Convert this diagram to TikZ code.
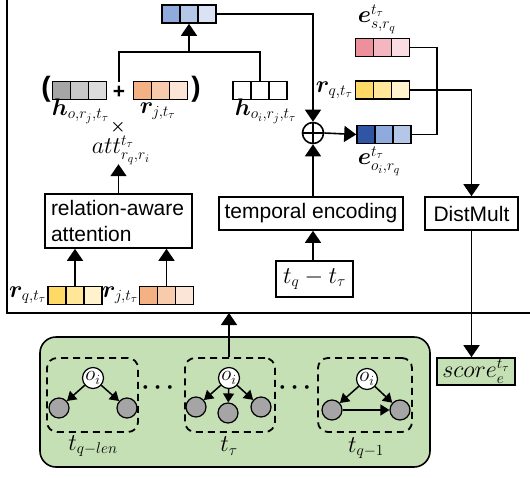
\RequirePackage{fix-cm}
\documentclass[tikz,border=0pt]{standalone}
\usepackage{fontspec}
\setmainfont{Liberation Sans}
\usepackage{amsmath,bm}
\usetikzlibrary{arrows.meta}
% math sizes with compact sub- and superscripts
\DeclareMathSizes{24}{24}{15.5}{11.5}
\DeclareMathSizes{21}{21}{14}{10.5}

\definecolor{blueA}{HTML}{8FAADC}
\definecolor{blueB}{HTML}{B4C7E7}
\definecolor{blueC}{HTML}{DAE3F3}
\definecolor{blueD}{HTML}{2F55A4}
\definecolor{greyA}{HTML}{A6A6A6}
\definecolor{greyB}{HTML}{C8C8C8}
\definecolor{greyC}{HTML}{DCDCDC}
\definecolor{orangeA}{HTML}{F4B183}
\definecolor{orangeB}{HTML}{F8CBAD}
\definecolor{orangeC}{HTML}{FBE5D6}
\definecolor{yellowA}{HTML}{FFD966}
\definecolor{yellowB}{HTML}{FFE699}
\definecolor{yellowC}{HTML}{FFF2CC}
\definecolor{pinkA}{HTML}{EE909C}
\definecolor{pinkB}{HTML}{F4B6C1}
\definecolor{pinkC}{HTML}{FADCE2}
\definecolor{greenbg}{HTML}{C5E0B4}
\definecolor{nodegrey}{HTML}{A5A5A5}

\tikzset{
  every node/.style={font=\fontsize{21}{25}\selectfont},
  mlab/.style={font=\fontsize{24}{28}\selectfont, inner sep=0pt},
  cell/.style={draw, minimum width=18pt, minimum height=18pt, inner sep=0pt, line width=1.6pt},
  pics/vec/.style n args={3}{code={
    \node[cell,fill=#1] (-a) at (-18,0) {};
    \node[cell,fill=#2] (-b) at (0,0) {};
    \node[cell,fill=#3] (-c) at (18,0) {};
  }},
  box/.style={draw, line width=1.6pt, inner sep=0pt},
  arr/.style={-{Triangle[width=16pt,length=12pt]}, line width=1.6pt},
  garr/.style={-{Triangle[width=11pt,length=9pt]}, line width=1.5pt},
  onode/.style={circle, draw, fill=white, minimum size=21pt, inner sep=0pt, line width=1.2pt,
                font=\fontsize{21}{24}\selectfont},
  gnode/.style={circle, draw, fill=nodegrey, minimum size=20pt, inner sep=0pt, line width=1.2pt},
  snapbox/.style={draw, dashed, dash pattern=on 7pt off 5pt, rounded corners=10pt, line width=1.8pt},
}

\begin{document}
\begin{tikzpicture}[x=1pt,y=-1pt,line width=1.6pt]
\useasboundingbox (0,0) rectangle (530,477);

% frame around the encoder
\coordinate (fTL) at (7,0);
\coordinate (fBL) at (7,313);
\coordinate (fBR) at (530,313);
\draw[line width=2.4pt] (fTL) -- (fBL) -- (fBR);

% aggregated vector on top
\pic (vtop) at (189,14) {vec={blueA}{blueB}{blueC}};

% neighbour message ( h + r ) x att
\node (lpar) at (46,89) {\fontsize{28}{30}\selectfont\textbf{(}};
\pic (vh) at (79.5,90.5) {vec={greyA}{greyB}{greyC}};
\node (plussign) at (119,92) {\textbf{+}};
\pic (vrj) at (160.5,90.5) {vec={orangeA}{orangeB}{orangeC}};
\node (rpar) at (196,89) {\fontsize{28}{30}\selectfont\textbf{)}};
\node[mlab, anchor=west] (hlab) at (51,111) {$\bm{h}_{o,r_j,t_\tau}$};
\node[mlab, anchor=west] (rjlab) at (139,111) {$\bm{r}_{j,t_\tau}$};
\node (timessign) at (118,127) {\fontsize{17}{18}\selectfont$\bm{\times}$};
\node[mlab, anchor=west] (attlab) at (91,150) {$att^{t_\tau}_{r_q,r_i}$};

% self vector
\pic (vhoi) at (260,90.5) {vec={white}{white}{white}};
\node[mlab, anchor=west] (hoilab) at (234,111) {$\bm{h}_{o_i,r_j,t_\tau}$};

% sum into top vector
\coordinate (join) at (189,52);
\draw (plussign.north) |- (join) -| (vhoi-b.north);
\draw[arr] (join) -- (vtop-b.south);

% relation-aware attention
\node[box, minimum width=147pt, minimum height=54pt, text width=135pt, align=left,
      font=\fontsize{21}{26}\selectfont] (attn) at (118.5,221) {relation-aware\\attention};
\draw[arr] (attn.north) -- ++(0,-29);

\pic (bq) at (75,295.5) {vec={yellowA}{yellowB}{yellowC}};
\pic (bj) at (166.5,295.5) {vec={orangeA}{orangeB}{orangeC}};
\node[mlab, anchor=east] (bqlab) at (47,295) {$\bm{r}_{q,t_\tau}$};
\node[mlab, anchor=east] (bjlab) at (139,295) {$\bm{r}_{j,t_\tau}$};
\draw[arr] (bq-b.north) -- (bq-b.north |- attn.south);
\draw[arr] (bj-b.north) -- (bj-b.north |- attn.south);

% temporal encoding branch
\node[draw, circle, minimum size=21pt, inner sep=0pt, line width=1.6pt,
      path picture={\draw[line width=1.6pt] (path picture bounding box.north) -- (path picture bounding box.south)
                    (path picture bounding box.west) -- (path picture bounding box.east);}] (oplus) at (313,133) {};
\node[box, minimum width=184pt, minimum height=33pt] (tenc) at (311,213.5) {temporal encoding};
\node[box, minimum width=77pt, minimum height=36pt, font=\fontsize{24}{28}\selectfont] (tdiff) at (314.5,279) {$t_q-t_\tau$};
\draw[arr] (tdiff.north -| oplus) -- (tenc.south -| oplus);
\draw[arr] (tenc.north -| oplus) -- (oplus.south);
\draw[arr] (vtop-c.east) -| (oplus.north);

% query side vectors
\node[mlab, anchor=west] (eslab) at (357,19) {$\bm{e}^{t_\tau}_{s,r_q}$};
\pic (ves) at (382.5,47.5) {vec={pinkA}{pinkB}{pinkC}};
\pic (vrq) at (382.5,90) {vec={yellowA}{yellowB}{yellowC}};
\node[mlab, anchor=east] (rqlab) at ([xshift=-1pt]vrq-a.west) {$\bm{r}_{q,t_\tau}$};
\pic (veo) at (384,134.5) {vec={blueD}{blueA}{blueB}};
\node[mlab, anchor=west] (eoilab) at (357,161) {$\bm{e}^{t_\tau}_{o_i,r_q}$};
\draw[arr] (oplus.east) -- (veo-a.west);

% DistMult and score
\node[box, minimum width=93pt, minimum height=33pt] (dm) at (471.5,213.5) {DistMult};
\coordinate (bend) at (437,90);
\draw (ves-c.east) -| (bend) |- (veo-c.east);
\draw[arr] (vrq-c.east) -| (dm.north);
\node[box, fill=greenbg, minimum width=78pt, minimum height=27pt, font=\fontsize{24}{28}\selectfont] (score) at (476,371.5) {$score^{t_\tau}_e$};
\draw[arr] (dm.south) -- (dm.south |- score.north);

% temporal subgraph sequence
\node[draw, fill=greenbg, rounded corners=16pt, line width=1.6pt,
      minimum width=390pt, minimum height=130pt] (hist) at (235,402) {};

\node[snapbox, minimum width=91pt, minimum height=74pt] (s1) at (92.5,395) {};
\node[snapbox, minimum width=90pt, minimum height=74pt] (s2) at (230,395) {};
\node[snapbox, minimum width=94pt, minimum height=74pt] (s3) at (365,395) {};

\node[font=\fontsize{24}{28}\selectfont] (dots1) at (160,388) {$\bm{\cdots}$};
\node[font=\fontsize{24}{28}\selectfont] (dots2) at (297,388) {$\bm{\cdots}$};

% snapshot t_{q-len}
\node[onode] (o1) at (93,378) {$o_i$};
\node[gnode] (g1a) at (59,408) {};
\node[gnode] (g1b) at (127,408) {};
\draw[garr] (o1) -- (g1a);
\draw[garr] (o1) -- (g1b);

% snapshot t_tau
\node[onode] (o2) at (229,378) {$o_i$};
\node[gnode] (g2a) at (196,407) {};
\node[gnode] (g2b) at (228,413) {};
\node[gnode] (g2c) at (261,407) {};
\draw[garr] (o2) -- (g2a);
\draw[garr] (o2) -- (g2b);
\draw[garr] (o2) -- (g2c);

% snapshot t_{q-1}
\node[onode] (o3) at (367,379) {$o_i$};
\node[gnode] (g3a) at (332,410) {};
\node[gnode] (g3b) at (400,410) {};
\draw[garr] (o3) -- (g3a);
\draw[garr] (o3) -- (g3b);
\draw[garr] (g3a) -- (g3b);

\node[mlab] (tl1) at (93,446) {$t_{q-len}$};
\node[mlab] (tl2) at (229,446) {$t_\tau$};
\node[mlab] (tl3) at (366,448) {$t_{q-1}$};

% history feeds the encoder
\coordinate (fin) at (229,313);
\draw[arr] (s2.north -| o2) -- (fin);
\end{tikzpicture}
\end{document}
